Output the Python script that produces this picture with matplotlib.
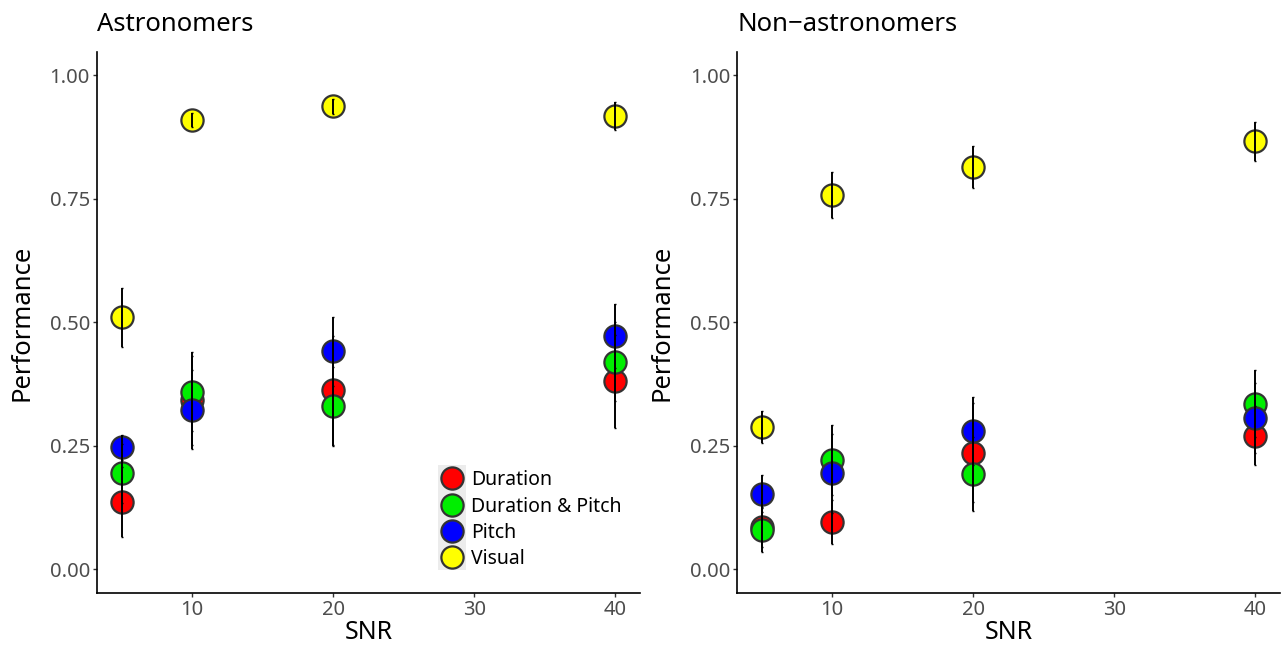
import matplotlib.pyplot as plt
from matplotlib.patches import Rectangle
import numpy as np

plt.rcParams['font.family'] = ['Noto Sans', 'DejaVu Sans']

# datos
snr = [5, 10, 20, 40]
condiciones = ['Duration', 'Duration & Pitch', 'Pitch', 'Visual']
colores = ['#ff0000', '#00ee00', '#0000ff', '#ffff00']
paneles = ['Astronomers', 'Non\u2212astronomers']

# Astronomers
astro_dur = [0.136, 0.342, 0.362, 0.380]
astro_dur_err = [0.070, 0.090, 0.110, 0.095]
astro_dp = [0.194, 0.359, 0.330, 0.420]
astro_dp_err = [0.060, 0.080, 0.080, 0.080]
astro_pitch = [0.247, 0.323, 0.441, 0.472]
astro_pitch_err = [0.025, 0.080, 0.070, 0.064]
astro_vis = [0.510, 0.909, 0.937, 0.917]
astro_vis_err = [0.060, 0.015, 0.015, 0.028]

# Non-astronomers
non_dur = [0.085, 0.096, 0.236, 0.270]
non_dur_err = [0.040, 0.044, 0.100, 0.060]
non_dp = [0.079, 0.221, 0.192, 0.335]
non_dp_err = [0.044, 0.070, 0.075, 0.068]
non_pitch = [0.153, 0.194, 0.280, 0.306]
non_pitch_err = [0.037, 0.080, 0.069, 0.070]
non_vis = [0.288, 0.757, 0.814, 0.866]
non_vis_err = [0.032, 0.047, 0.043, 0.040]

datos = [
    [(astro_dur, astro_dur_err), (astro_dp, astro_dp_err),
     (astro_pitch, astro_pitch_err), (astro_vis, astro_vis_err)],
    [(non_dur, non_dur_err), (non_dp, non_dp_err),
     (non_pitch, non_pitch_err), (non_vis, non_vis_err)],
]

fig = plt.figure(figsize=(12.84, 6.52), dpi=100)
ax1 = fig.add_axes([0.0755, 0.0905, 0.423, 0.830])
ax2 = fig.add_axes([0.574, 0.0905, 0.423, 0.830])
axes = [ax1, ax2]

gris = '#4d4d4d'
for ax, titulo, series in zip(axes, paneles, datos):
    for (vals, errs), cond, col in zip(series, condiciones, colores):
        ax.plot(snr, vals, 'o', ms=16, mfc=col, mec='#333333', mew=1.6,
                label=cond, zorder=3)
        ax.errorbar(snr, vals, yerr=errs, fmt='none', ecolor='black',
                    elinewidth=1.4, capsize=1, capthick=1, zorder=4)
    ax.set_xlim(3.25, 41.75)
    ax.set_ylim(-0.048, 1.047)
    ax.set_xticks([10, 20, 30, 40])
    ax.set_yticks([0, 0.25, 0.5, 0.75, 1.0])
    ax.set_yticklabels(['0.00', '0.25', '0.50', '0.75', '1.00'])
    for s in ['top', 'right']:
        ax.spines[s].set_visible(False)
    for s in ['left', 'bottom']:
        ax.spines[s].set_linewidth(1.2)
        ax.spines[s].set_color('black')
    ax.tick_params(axis='both', direction='out', length=3, width=1,
                   color='#333333', labelcolor=gris, labelsize=14.5, pad=2)
    ax.set_xlabel('SNR', fontsize=18, labelpad=0)
    ax.set_ylabel('Performance', fontsize=18.5, labelpad=11)
    ax.set_title(titulo, loc='left', fontsize=18.5, pad=15)

# fondo gris de las claves de la leyenda
ax1.add_patch(Rectangle((0.628, 0.0425), 0.0516, 0.194, transform=ax1.transAxes,
                        facecolor='#ececec', edgecolor='none', zorder=1))
ley = ax1.legend(loc='upper left', bbox_to_anchor=(0.599, 0.2555), frameon=False,
                 fontsize=14, handletextpad=0.2, labelspacing=0.32,
                 handlelength=1.5, borderpad=0.3)

plt.savefig('out.png', dpi=100)
